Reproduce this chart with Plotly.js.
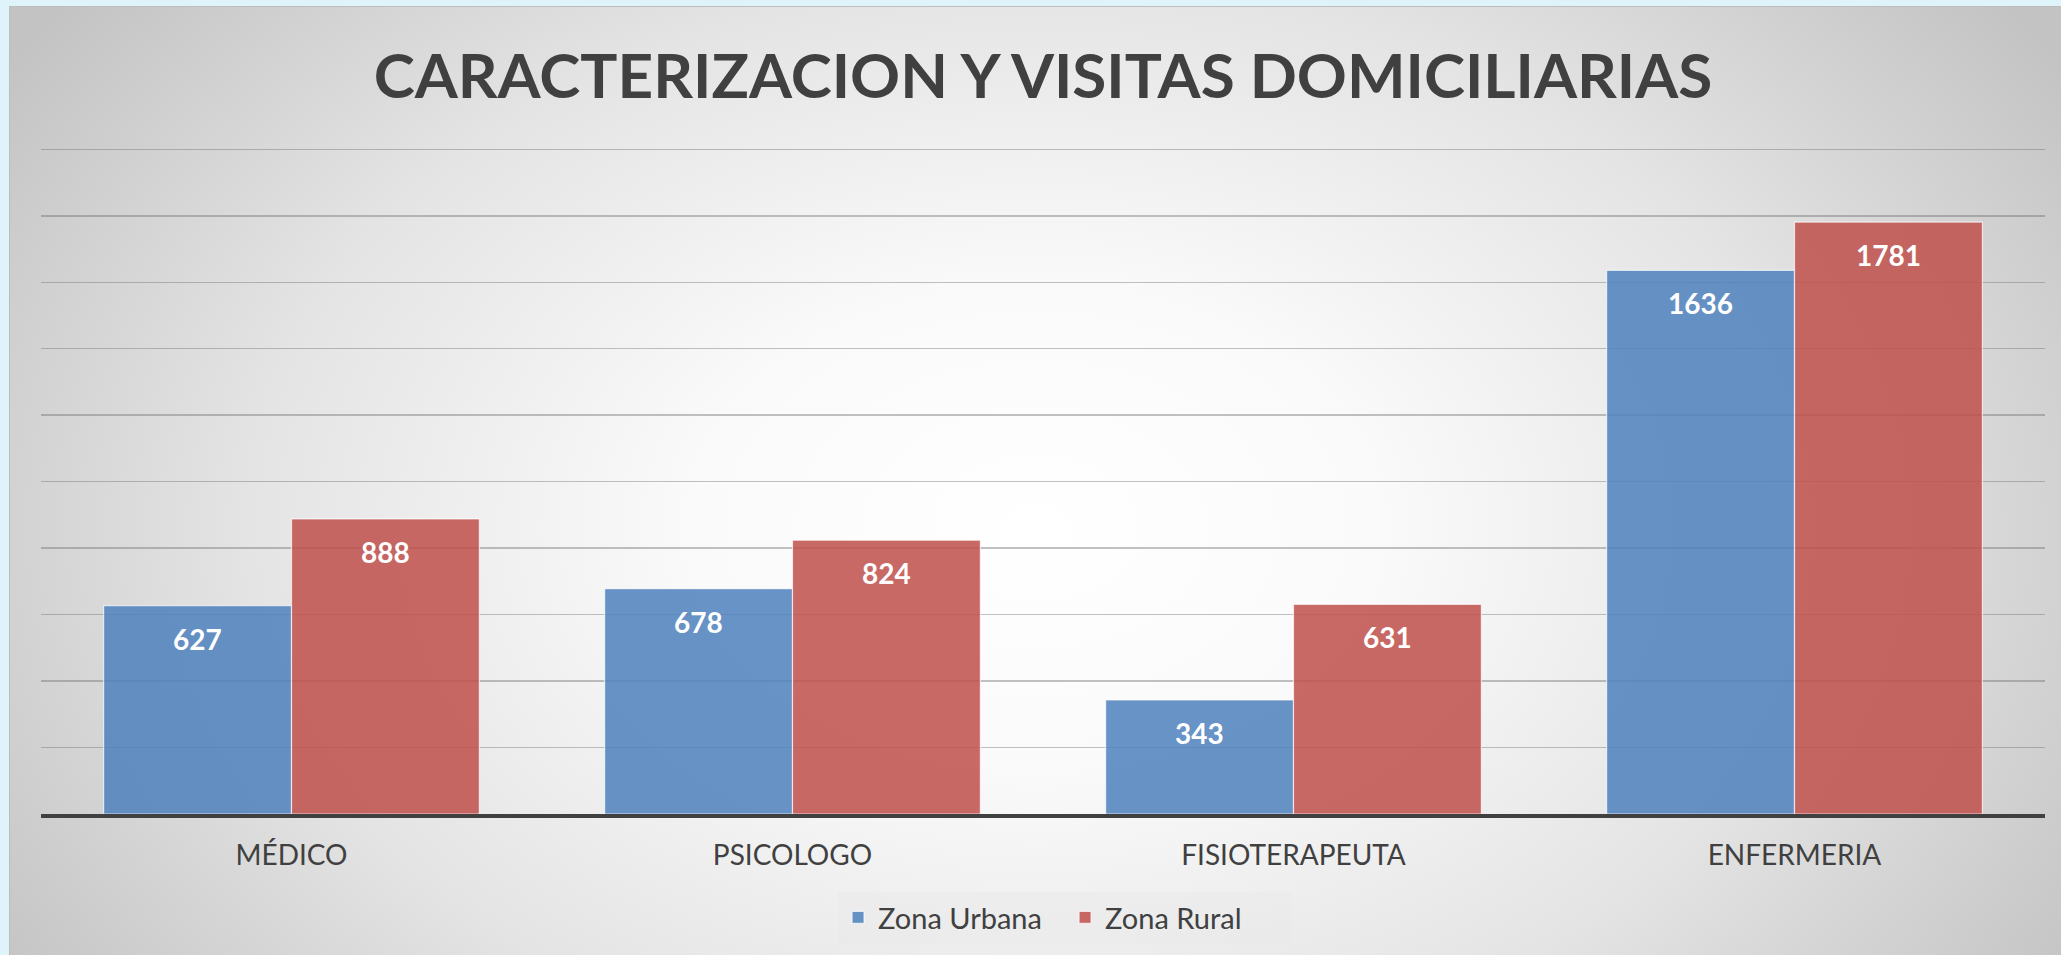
<!DOCTYPE html>
<html>
<head>
<meta charset="utf-8">
<script src="https://cdn.plot.ly/plotly-3.0.1.min.js"></script>
<style>
  html, body { margin: 0; padding: 0; width: 2061px; height: 955px; overflow: hidden; background: #dff3fa; }
  #frame {
    position: absolute; left: 9px; top: 6px; width: 2052px; height: 949px;
    background: radial-gradient(ellipse 60% 90% at 50% 55%, #ffffff 0%, #fafafa 28%, #e4e4e4 64%, #c3c3c3 100%);
    border-top: 1px solid #bdbdbd; border-left: 1px solid #bdbdbd; box-sizing: border-box;
  }
  #chart { position: absolute; left: 0; top: 0; width: 2052px; height: 949px; }
</style>
</head>
<body>
<div id="frame"><div id="chart"></div></div>
<script>
const categories = ["MÉDICO", "PSICOLOGO", "FISIOTERAPEUTA", "ENFERMERIA"];
const seriesNames = ["Zona Urbana", "Zona Rural"];
const urbana = [627, 678, 343, 1636];
const rural = [888, 824, 631, 1781];
const chartTitle = "CARACTERIZACION Y VISITAS DOMICILIARIAS";

const colors = ["rgba(79,129,189,0.86)", "rgba(192,80,77,0.86)"];
const seriesValues = [urbana, rural];

const traces = seriesValues.map((vals, i) => ({
  type: "bar",
  name: seriesNames[i],
  x: categories,
  y: vals,
  marker: { color: colors[i], line: { color: "rgba(255,255,255,0.7)", width: 1.2 } },
  hoverinfo: "x+y+name"
}));

// data labels positioned just under each bar top
const plotW = 2052 - 31 - 17;
const halfBar = (plotW / categories.length) * 0.75 / 4;
const annotations = [];
seriesValues.forEach((vals, i) => {
  vals.forEach((v, j) => {
    annotations.push({
      x: categories[j], y: v, xref: "x", yref: "y",
      text: "<b>" + v + "</b>", showarrow: false,
      xshift: (i === 0 ? -1 : 1) * halfBar, yshift: -33,
      yanchor: "middle", xanchor: "center",
      font: { family: "Lato, 'Open Sans', sans-serif", size: 28, color: "#ffffff" }
    });
  });
});

const layout = {
  width: 2052, height: 949,
  paper_bgcolor: "rgba(0,0,0,0)", plot_bgcolor: "rgba(0,0,0,0)",
  margin: { l: 31, r: 17, t: 139, b: 142 },
  title: {
    text: "<b>" + chartTitle + "</b>",
    font: { family: "Lato, 'Open Sans', sans-serif", size: 62, color: "#404040" },
    x: 0.5034, xref: "container", xanchor: "center",
    y: 0.927, yref: "container", yanchor: "middle"
  },
  barmode: "group", bargap: 0.25, bargroupgap: 0,
  xaxis: {
    type: "category",
    showline: true, linecolor: "#404040", linewidth: 4,
    showgrid: false, zeroline: false, ticks: "",
    tickfont: { family: "Lato, 'Open Sans', sans-serif", size: 28, color: "#404040" },
    ticklabelstandoff: 13
  },
  yaxis: {
    range: [0, 2010], dtick: 200, tick0: 0,
    showgrid: true, gridcolor: "rgba(110,110,110,0.42)", gridwidth: 1.5,
    showticklabels: false, zeroline: false, showline: false, ticks: ""
  },
  showlegend: true,
  legend: {
    orientation: "h", x: 0.511, xanchor: "center", y: -0.155, yanchor: "middle",
    bgcolor: "rgba(232,232,232,0.45)", borderwidth: 0,
    entrywidth: 182,
    font: { family: "Lato, 'Open Sans', sans-serif", size: 29, color: "#404040" }
  },
  annotations: annotations
};

Plotly.newPlot("chart", traces, layout, { displayModeBar: false, staticPlot: true });
</script>
</body>
</html>
